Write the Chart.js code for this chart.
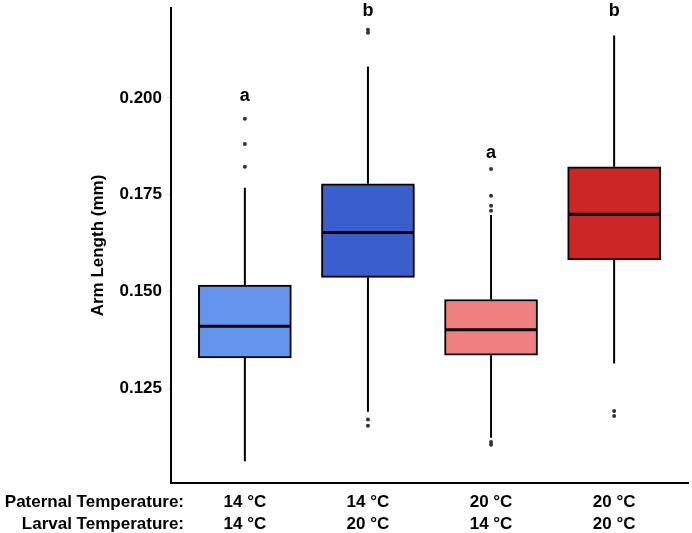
<!DOCTYPE html>
<html>
<head>
<meta charset="utf-8">
<script src="https://cdn.jsdelivr.net/npm/chart.js@4.4.1/dist/chart.umd.min.js"></script>
<style>
html, body { margin: 0; padding: 0; background: #fff; }
#wrap { width: 692px; height: 533px; }
</style>
</head>
<body>
<div id="wrap"><canvas id="boxChart"></canvas></div>
<script>
// groups on the x axis (1..4) and their two label rows
var groups = [1, 2, 3, 4];
var paternalTemp = ["14 °C", "14 °C", "20 °C", "20 °C"];
var larvalTemp = ["14 °C", "20 °C", "14 °C", "20 °C"];
var rowTitles = ["Paternal Temperature:", "Larval Temperature:"];
var boxColors = ["#6495ED", "#3A5FCD", "#F08080", "#CD2626"];

// box statistics (mm)
var whiskerLow = [0.1061, 0.1189, 0.1122, 0.1314];
var q1 = [0.1328, 0.1536, 0.1335, 0.1581];
var median = [0.1410, 0.1652, 0.1401, 0.1699];
var q3 = [0.1516, 0.1778, 0.1479, 0.1822];
var whiskerHigh = [0.1768, 0.2081, 0.1697, 0.2161];

var outliers = [
    [0.1946, 0.1881, 0.1822],
    [0.2176, 0.2168, 0.1169, 0.1153],
    [0.1816, 0.1747, 0.1721, 0.1708, 0.1111, 0.1104],
    [0.1191, 0.1178]
];

// significance letters and the value they sit at
var letters = ["a", "b", "a", "b"];
var letterY = [0.1992, 0.2212, 0.1845, 0.2212];

var yTicks = [0.125, 0.150, 0.175, 0.200];

var FONT = "'Liberation Sans', Arial, Helvetica, sans-serif";
var X_PAD = 9;
var X_LINE = 21.5;

var boxData = [];
var pointData = [];
for (var i = 0; i < groups.length; i++) {
    boxData.push({x: groups[i], y: [q1[i], q3[i]]});
    for (var j = 0; j < outliers[i].length; j++) {
        pointData.push({x: groups[i], y: outliers[i][j]});
    }
}

function noEdgePadding(scale) {
    scale.paddingTop = 0;
    scale.paddingBottom = 0;
    scale.paddingLeft = 0;
    scale.paddingRight = 0;
}

var boxParts = {
    id: "boxParts",
    beforeDatasetsDraw: function (chart) {
        var ctx = chart.ctx;
        var xs = chart.scales.x, ys = chart.scales.y;
        ctx.save();
        ctx.strokeStyle = "#000";
        ctx.lineWidth = 2;
        for (var i = 0; i < groups.length; i++) {
            var px = xs.getPixelForValue(groups[i]);
            ctx.beginPath();
            ctx.moveTo(px, ys.getPixelForValue(whiskerHigh[i]));
            ctx.lineTo(px, ys.getPixelForValue(q3[i]));
            ctx.moveTo(px, ys.getPixelForValue(q1[i]));
            ctx.lineTo(px, ys.getPixelForValue(whiskerLow[i]));
            ctx.stroke();
        }
        ctx.restore();
    },
    afterDatasetsDraw: function (chart) {
        var ctx = chart.ctx;
        var xs = chart.scales.x, ys = chart.scales.y;
        var bars = chart.getDatasetMeta(0).data;
        ctx.save();
        ctx.strokeStyle = "#000";
        ctx.lineWidth = 3;
        for (var i = 0; i < groups.length; i++) {
            var half = bars[i].width / 2;
            var px = xs.getPixelForValue(groups[i]);
            var py = ys.getPixelForValue(median[i]);
            ctx.beginPath();
            ctx.moveTo(px - half + 1, py);
            ctx.lineTo(px + half - 1, py);
            ctx.stroke();
        }
        ctx.fillStyle = "#000";
        ctx.textAlign = "center";
        ctx.textBaseline = "alphabetic";
        ctx.font = "bold 18px " + FONT;
        for (var k = 0; k < groups.length; k++) {
            ctx.fillText(letters[k], xs.getPixelForValue(groups[k]), ys.getPixelForValue(letterY[k]));
        }
        // row titles of the x labels
        ctx.font = "bold 17px " + FONT;
        ctx.textAlign = "right";
        ctx.textBaseline = "middle";
        for (var r = 0; r < rowTitles.length; r++) {
            ctx.fillText(rowTitles[r], xs.left + 13, xs.top + X_PAD + X_LINE / 2 + r * X_LINE);
        }
        ctx.restore();
    }
};

var chart = new Chart(document.getElementById("boxChart"), {
    type: "bar",
    data: {
        datasets: [{
            type: "bar",
            data: boxData,
            backgroundColor: boxColors,
            borderColor: "#000",
            borderWidth: 2,
            borderSkipped: false,
            barThickness: 93
        }, {
            type: "scatter",
            data: pointData,
            pointRadius: 2,
            pointBackgroundColor: "#333",
            pointBorderWidth: 0
        }]
    },
    options: {
        responsive: true,
        maintainAspectRatio: false,
        animation: false,
        layout: {padding: {top: 8, right: 2, left: 0, bottom: 0}},
        plugins: {
            legend: {display: false},
            tooltip: {enabled: false}
        },
        scales: {
            x: {
                type: "linear",
                offset: false,
                min: 0.4,
                max: 4.6,
                afterBuildTicks: function (scale) {
                    scale.ticks = groups.map(function (g) { return {value: g}; });
                },
                afterFit: function (scale) {
                    scale.height = 50;
                    noEdgePadding(scale);
                },
                grid: {display: false, drawTicks: false},
                border: {display: true, color: "#000", width: 2},
                ticks: {
                    padding: X_PAD,
                    color: "#000",
                    maxRotation: 0,
                    autoSkip: false,
                    font: {family: FONT, size: 17, weight: "bold", lineHeight: X_LINE / 17},
                    callback: function (value) {
                        var i = groups.indexOf(value);
                        return [paternalTemp[i], larvalTemp[i]];
                    }
                }
            },
            y: {
                type: "linear",
                min: 0.1005,
                max: 0.2232,
                afterBuildTicks: function (scale) {
                    scale.ticks = yTicks.map(function (v) { return {value: v}; });
                },
                afterFit: function (scale) {
                    scale.width = 171;
                    noEdgePadding(scale);
                },
                grid: {display: true, drawOnChartArea: false, drawTicks: true, tickLength: 4, color: "#d8d8d8"},
                border: {display: true, color: "#000", width: 2},
                title: {
                    display: true,
                    text: "Arm Length (mm)",
                    color: "#000",
                    font: {family: FONT, size: 17, weight: "bold"},
                    padding: {top: 88, bottom: 0}
                },
                ticks: {
                    padding: 5,
                    color: "#000",
                    font: {family: FONT, size: 17, weight: "bold"},
                    callback: function (value) { return value.toFixed(3); }
                }
            }
        }
    },
    plugins: [boxParts]
});
</script>
</body>
</html>
